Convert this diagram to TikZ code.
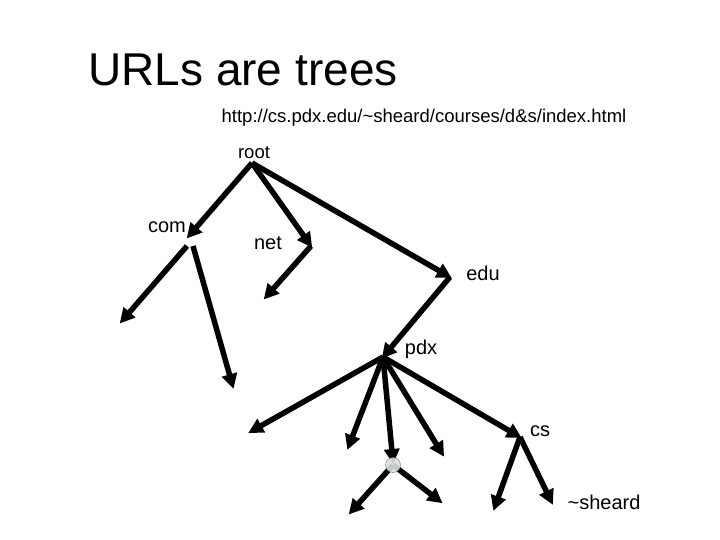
\documentclass[tikz,border=0pt]{standalone}
\usepackage{fontspec}
\setmainfont{Liberation Sans}
\usetikzlibrary{arrows.meta}
\begin{document}
\begin{tikzpicture}[x=1pt,y=-1pt,
  edge/.style={line width=5.5pt,-{Triangle[length=15pt,width=15pt]},shorten >=-2pt},
  lbl/.style={inner sep=0pt,font=\fontsize{20}{20}\selectfont}]
\useasboundingbox (0,0) rectangle (720,540);
\coordinate (root) at (252,163);
\coordinate (com) at (188,237);
\coordinate (comA) at (187,246);
\coordinate (comB) at (193,246);
\coordinate (c1) at (121,322);
\coordinate (c2) at (233,387);
\coordinate (net) at (311,246);
\coordinate (n1) at (265,298);
\coordinate (edu) at (450,277);
\coordinate (pdx) at (383,357);
\coordinate (p1) at (250,432);
\coordinate (p2) at (348,448);
\coordinate (p3) at (393,462);
\coordinate (p4) at (443,455);
\coordinate (cs) at (520,437);
\coordinate (s1) at (494,509);
\coordinate (s2) at (552,503);
\coordinate (q1) at (350,513);
\coordinate (q2) at (441,502);
\coordinate (cc) at (393,465);
\draw[edge] (root) -- (com);
\draw[edge] (root) -- (net);
\draw[edge] (root) -- (edu);
\draw[edge] (comA) -- (c1);
\draw[edge] (comB) -- (c2);
\draw[edge] (net) -- (n1);
\draw[edge] (edu) -- (pdx);
\draw[edge] (pdx) -- (p1);
\draw[edge] (pdx) -- (p2);
\draw[edge] (pdx) -- (p3);
\draw[edge] (pdx) -- (p4);
\draw[edge] (pdx) -- (cs);
\draw[edge] (cs) -- (s1);
\draw[edge] (cs) -- (s2);
\draw[edge] (cc) -- (q1);
\draw[edge] (cc) -- (q2);
\node[circle,draw=gray!80!black,fill=cyan!10!gray!30,opacity=0.9,minimum size=15pt,inner sep=0pt] (circ) at (cc) {};
\node[inner sep=0pt,font=\fontsize{46}{46}\selectfont] (title) at (243,70) {URLs are trees};
\node[inner sep=0pt,font=\fontsize{18.5}{18.5}\selectfont] (url) at (424,118) {http://cs.pdx.edu/\textasciitilde sheard/courses/d\&s/index.html};
\node[lbl,font=\fontsize{18.5}{18.5}\selectfont] (rootl) at (254,153) {root};
\node[lbl] (coml) at (167,227) {com};
\node[lbl] (netl) at (268,243) {net};
\node[lbl] (edul) at (483,273) {edu};
\node[lbl] (pdxl) at (421,349) {pdx};
\node[lbl] (csl) at (540,431) {cs};
\node[lbl] (shl) at (604,502) {\textasciitilde sheard};
\end{tikzpicture}
\end{document}
